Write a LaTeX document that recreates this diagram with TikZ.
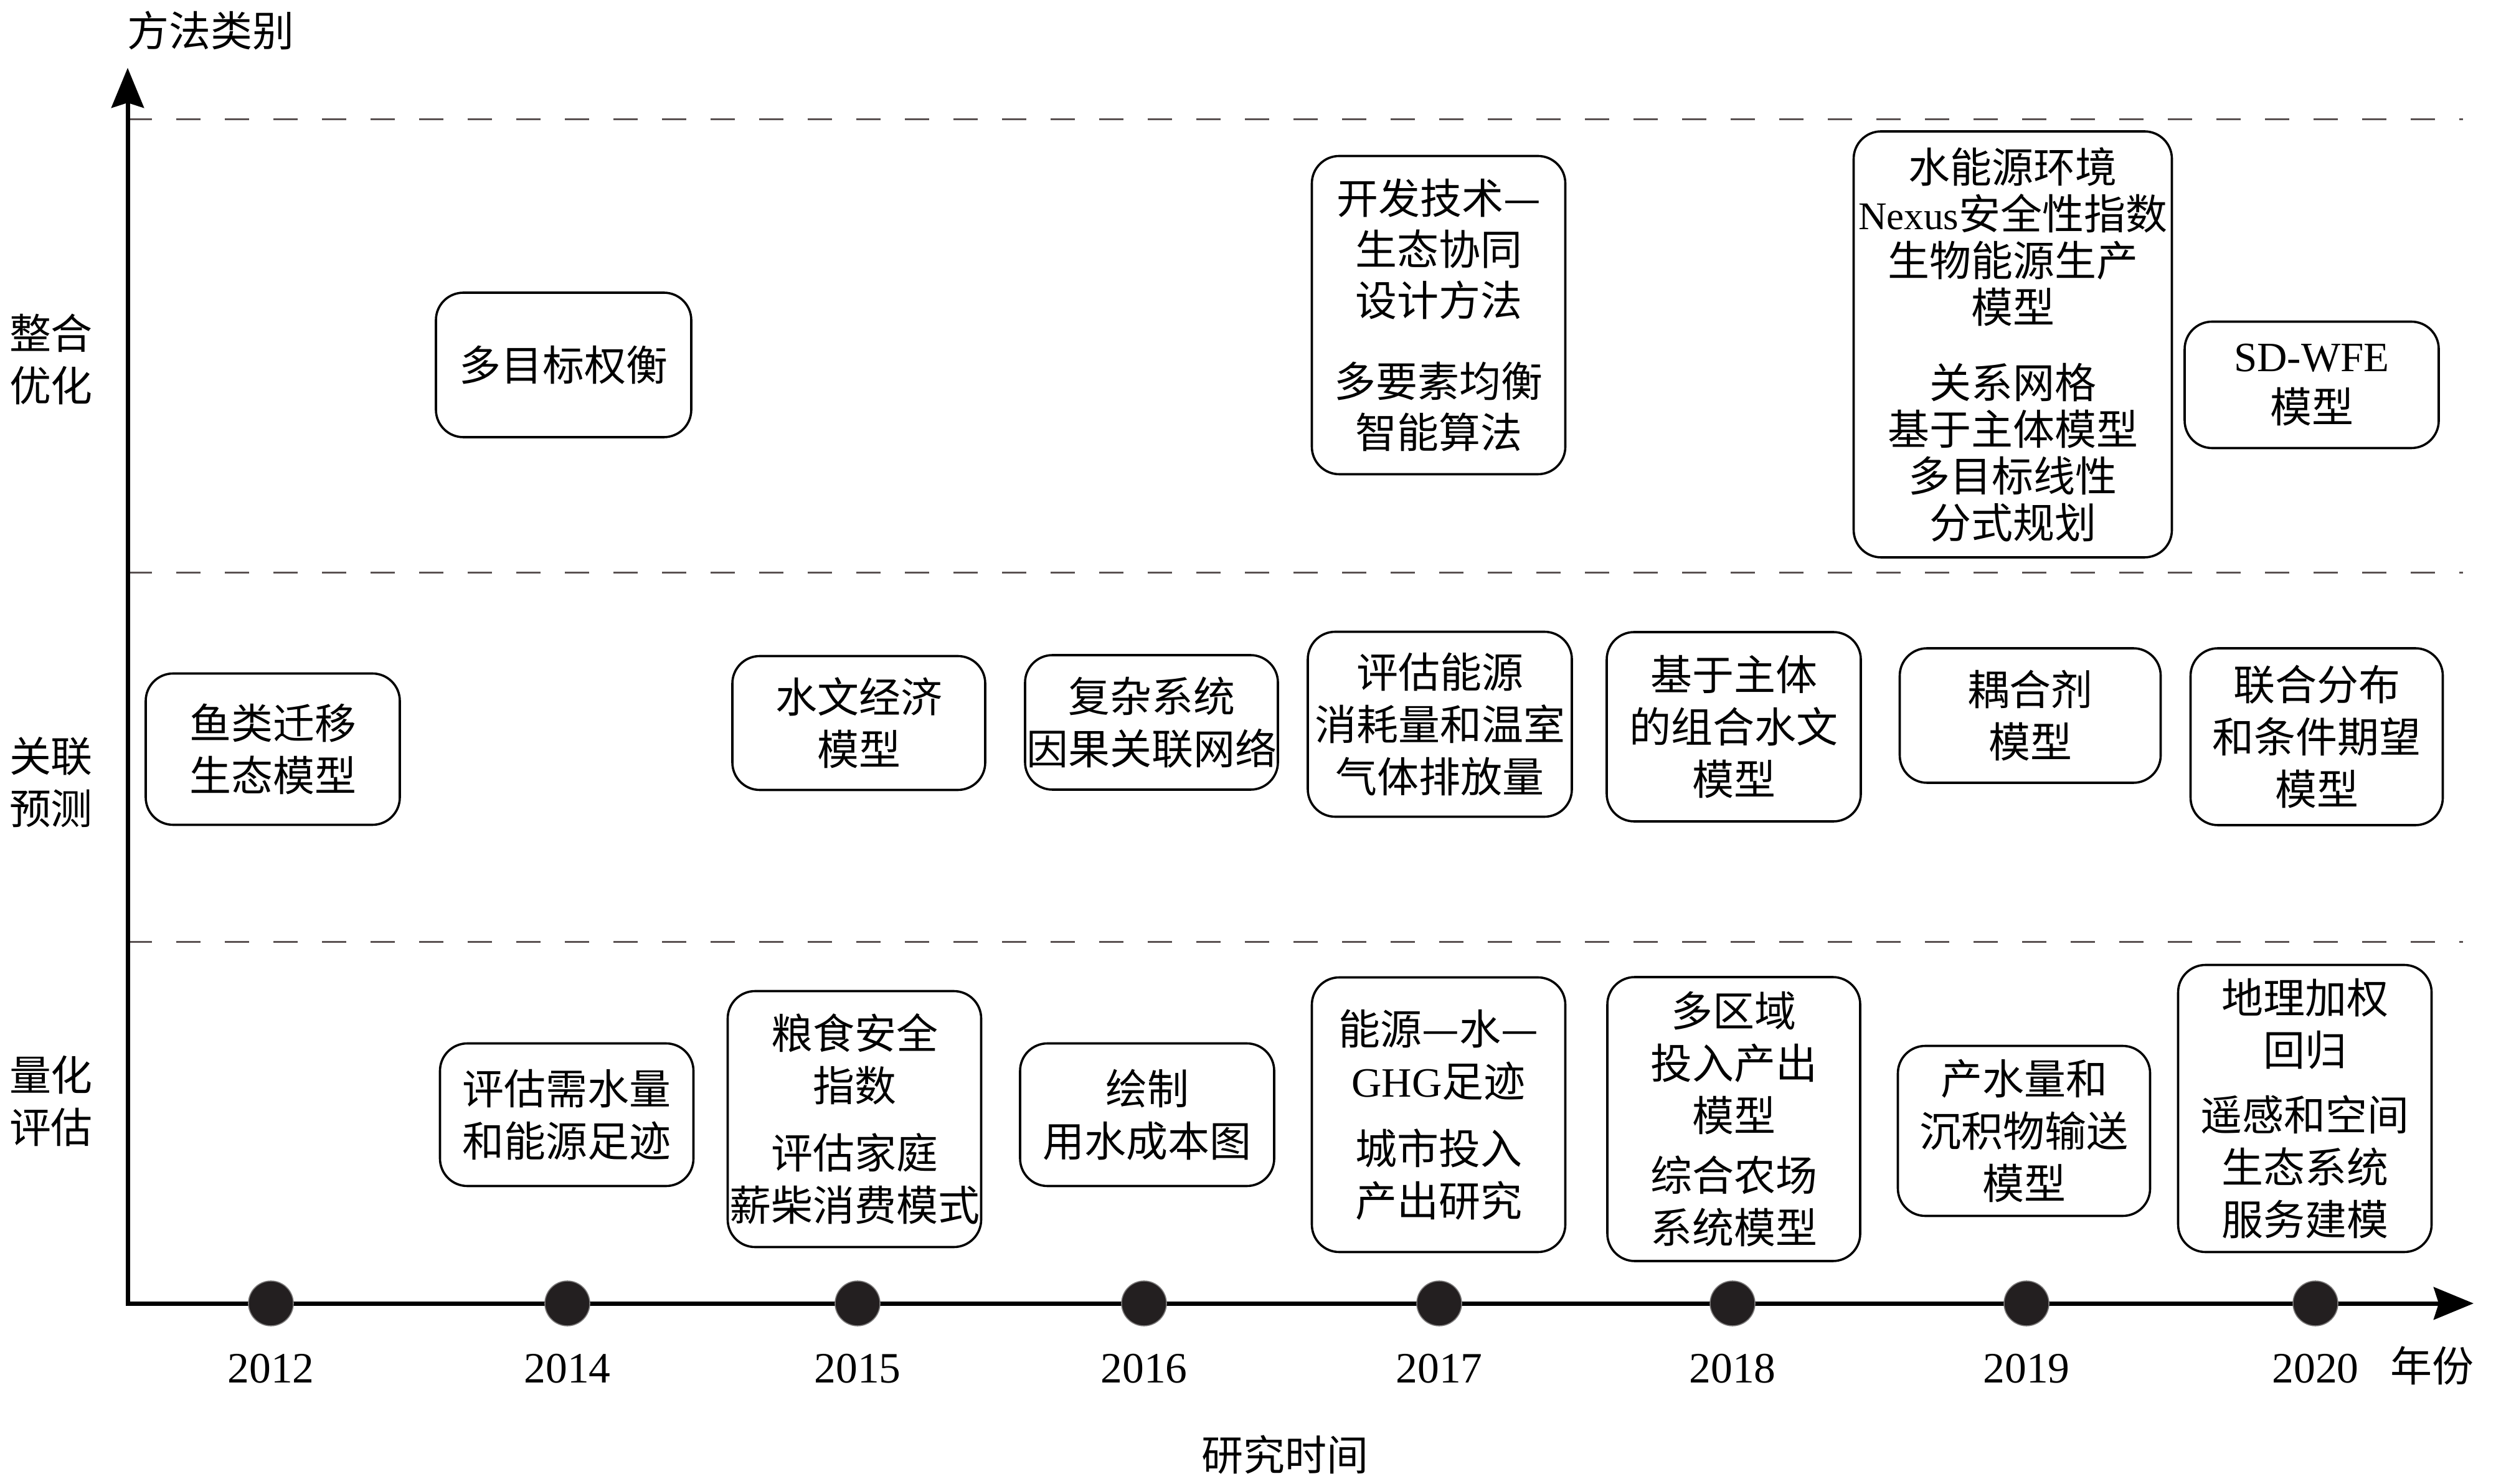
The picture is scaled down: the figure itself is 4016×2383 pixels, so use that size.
\documentclass[tikz,border=0pt]{standalone}
\usepackage{fontspec}
\setmainfont{Liberation Serif}
\newfontfamily\cjk{Noto Sans CJK SC}
\usetikzlibrary{arrows.meta}
\newcommand\latn[1]{{\rmfamily #1}}
\definecolor{dotc}{HTML}{231F20}
\definecolor{dashc}{HTML}{5A5252}
\begin{document}
\begin{tikzpicture}[x=0.25pt,y=-0.25pt,
  box/.style={draw=black, line width=0.9pt, rounded corners=11pt, align=center, inner sep=0pt, font=\cjk\fontsize{16.75}{21}\selectfont},
  sz/.style 2 args={minimum width=#1*0.25pt, minimum height=#2*0.25pt},
  lbl/.style={font=\cjk\fontsize{16.75}{21}\selectfont, align=center, inner sep=0pt},
  yr/.style={font=\fontsize{17.4}{20}\selectfont, inner sep=0pt},
  dotn/.style={circle, fill=dotc, draw=dotc!60, line width=0.4pt, minimum size=18pt, inner sep=0pt},
  axis/.style={line width=1.75pt, black},
  sepline/.style={dashc, line width=0.75pt, dash pattern=on 9.75pt off 9.75pt}
]
\useasboundingbox (0,0) rectangle (4016,2383);

% separators
\coordinate (s1a) at (205,192);  \coordinate (s1b) at (3955,192);
\coordinate (s2a) at (205,920);  \coordinate (s2b) at (3955,920);
\coordinate (s3a) at (205,1512); \coordinate (s3b) at (3955,1512);
\draw[sepline] (s1a) -- (s1b);
\draw[sepline] (s2a) -- (s2b);
\draw[sepline] (s3a) -- (s3b);

% axes
\coordinate (O) at (205,2093);
\coordinate (ytip) at (205,109);
\coordinate (xtip) at (3972,2093);
\draw[axis, {Stealth[length=16pt,width=13pt,inset=2pt]}-{Stealth[length=16pt,width=13pt,inset=2pt]}] (ytip) -- (O) -- (xtip);

% axis titles
\node[lbl] (ytitle) at (338,49) {方法类别};
\node[lbl] (xtitle) at (2063,2336) {研究时间};
\node[lbl] (xunit) at (3905,2193) {年份};

% row labels
\node[lbl] (r1) at (82,577) {整合\\优化};
\node[lbl] (r2) at (82,1256) {关联\\预测};
\node[lbl] (r3) at (82,1768) {量化\\评估};

% dots and years
\foreach \xx/\yy in {435/2012, 911/2014, 1377/2015, 1837/2016, 2311/2017, 2782/2018, 3254/2019, 3718/2020}{
  \node[dotn] (d\yy) at (\xx,2093) {};
  \node[yr] (y\yy) at (\xx,2198) {\yy};
}

% top row
\node[box, sz={410}{232}] (t1) at (905,586) {多目标权衡};
\node[box, sz={407}{511}, font=\cjk\fontsize{16.75}{20.5}\selectfont] (t2) at (2310,506) {开发技术—\\生态协同\\设计方法\\[12pt]多要素均衡\\智能算法};
\node[box, sz={511}{684}, font=\cjk\fontsize{16.75}{18.75}\selectfont] (t3) at (3232,553) {水能源环境\\{\rmfamily\fontsize{15.75}{18.75}\selectfont Nexus}安全性指数\\生物能源生产\\模型\\[11.5pt]关系网格\\基于主体模型\\多目标线性\\分式规划};
\node[box, sz={408}{203}, font=\cjk\fontsize{16.75}{20.5}\selectfont] (t4) at (3712,618) {\latn{SD-WFE}\\模型};

% middle row
\node[box, sz={408}{243}] (m1) at (438,1203) {鱼类迁移\\生态模型};
\node[box, sz={406}{215}] (m2) at (1379,1161) {水文经济\\模型};
\node[box, sz={406}{216}] (m3) at (1849,1160) {复杂系统\\因果关联网络};
\node[box, sz={424}{297}] (m4) at (2312,1163) {评估能源\\消耗量和温室\\气体排放量};
\node[box, sz={408}{304}] (m5) at (2784,1167) {基于主体\\的组合水文\\模型};
\node[box, sz={419}{216}] (m6) at (3260,1149) {耦合剂\\模型};
\node[box, sz={405}{284}] (m7) at (3720,1183) {联合分布\\和条件期望\\模型};

% bottom row
\node[box, sz={407}{229}] (b1) at (910,1790) {评估需水量\\和能源足迹};
\node[box, sz={407}{411}] (b2) at (1372,1797) {粮食安全\\指数\\[6pt]评估家庭\\薪柴消费模式};
\node[box, sz={408}{229}] (b3) at (1842,1790) {绘制\\用水成本图};
\node[box, sz={407}{441}] (b4) at (2310,1790) {能源—水—\\\latn{GHG}足迹\\[6pt]城市投入\\产出研究};
\node[box, sz={406}{456}] (b5) at (2784,1797) {多区域\\投入产出\\模型\\[3pt]综合农场\\系统模型};
\node[box, sz={405}{273}] (b6) at (3250,1816) {产水量和\\沉积物输送\\模型};
\node[box, sz={407}{461}] (b7) at (3701,1780) {地理加权\\回归\\[5pt]遥感和空间\\生态系统\\服务建模};
\end{tikzpicture}
\end{document}
